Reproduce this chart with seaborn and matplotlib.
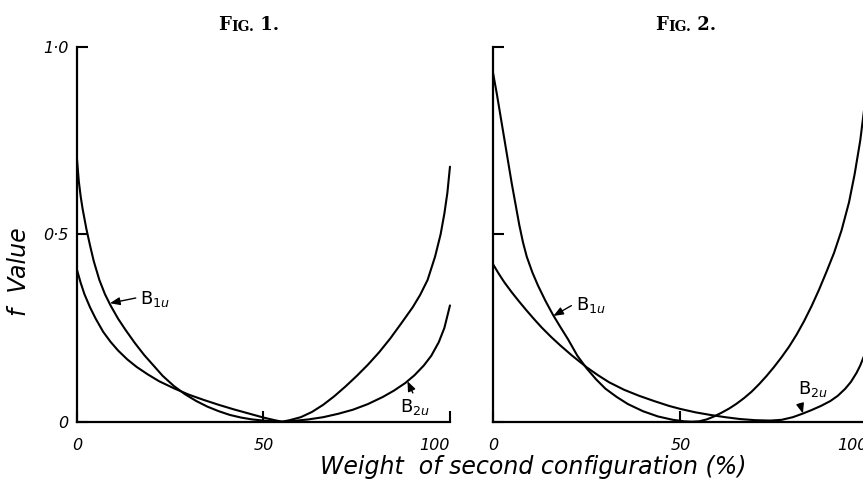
import matplotlib
matplotlib.use('Agg')
import matplotlib.pyplot as plt
import seaborn as sns

# Fig. 1 : f value vs weight of second configuration (%)
fig1_b1u_x = [0, 0.5, 1, 1.5, 2.5, 3.5, 4.5, 6, 7.5, 9, 11, 13, 15.5, 18, 20.5, 23, 26, 29, 32, 35,
              38, 41, 44, 47, 50, 53, 55,
              57, 60, 63, 66, 69, 72, 75, 78, 81, 84, 87, 90, 92, 94, 96, 97.5, 98.5, 99.3, 100]
fig1_b1u_f = [0.700, 0.640, 0.600, 0.568, 0.515, 0.470, 0.428, 0.378, 0.340, 0.310, 0.275, 0.245, 0.210,
              0.178, 0.150, 0.122, 0.095, 0.073, 0.055, 0.040, 0.028, 0.018, 0.011, 0.006, 0.003, 0.001, 0.000,
              0.004, 0.012, 0.026, 0.045, 0.068, 0.094, 0.122, 0.152, 0.185, 0.222, 0.263, 0.305, 0.338,
              0.378, 0.440, 0.500, 0.555, 0.610, 0.680]
fig1_b2u_x = [0, 1, 2, 3.5, 5, 7, 9, 11, 13.5, 16, 19, 22, 26, 30, 34, 38, 42, 46, 50, 53, 55,
              58, 62, 66, 70, 74, 78, 82, 85, 88, 90.5, 93, 95, 97, 98.5, 100]
fig1_b2u_f = [0.405, 0.370, 0.340, 0.305, 0.275, 0.240, 0.213, 0.190, 0.166, 0.146, 0.126, 0.108, 0.089,
              0.072, 0.058, 0.045, 0.033, 0.022, 0.011, 0.004, 0.000,
              0.002, 0.006, 0.012, 0.021, 0.032, 0.047, 0.066, 0.083, 0.103, 0.124, 0.150, 0.176, 0.212,
              0.250, 0.310]

# Fig. 2
fig2_b1u_x = [0, 1, 2, 3, 4, 5, 6, 7, 8, 9, 10.5, 12, 14, 16, 18, 20, 22.5, 25, 27.5, 30, 33, 36, 40,
              44, 48, 51, 53,
              55, 57, 59, 61, 63, 65, 67, 69, 71, 73, 75, 77, 79, 81, 83, 85, 87, 89, 91, 93, 95, 96.5,
              98, 99, 100]
fig2_b1u_f = [0.930, 0.875, 0.815, 0.755, 0.695, 0.635, 0.580, 0.525, 0.478, 0.440, 0.398, 0.363, 0.322,
              0.285, 0.252, 0.220, 0.176, 0.142, 0.113, 0.088, 0.066, 0.047, 0.028, 0.014, 0.005, 0.001,
              0.000,
              0.001, 0.006, 0.014, 0.024, 0.035, 0.048, 0.063, 0.080, 0.100, 0.122, 0.146, 0.172, 0.200,
              0.232, 0.268, 0.308, 0.352, 0.400, 0.450, 0.510, 0.585, 0.660, 0.750, 0.830, 0.930]
fig2_b2u_x = [0, 1.5, 3, 5, 7, 9, 11, 13, 15.5, 18, 21, 25, 28, 31, 35, 39, 43, 47, 50, 54, 58, 62,
              66, 70, 74, 77, 80, 82.5, 85, 87.5, 90, 92, 94, 95.5, 97, 98, 99, 100]
fig2_b2u_f = [0.420, 0.395, 0.372, 0.345, 0.320, 0.296, 0.273, 0.251, 0.226, 0.203, 0.177, 0.145, 0.124,
              0.105, 0.085, 0.069, 0.055, 0.042, 0.034, 0.025, 0.018, 0.012, 0.007, 0.004, 0.003, 0.005,
              0.012, 0.021, 0.031, 0.042, 0.055, 0.069, 0.088, 0.106, 0.130, 0.150, 0.175, 0.205]

x_ticks = [0, 50, 100]
x_ticklabels = ['0', '50', '100']
y_ticks = [0, 0.5, 1.0]
fig1_y_ticklabels = ['0', '0·5', '1·0']

sns.set_theme(style='white')
plt.rcParams['font.family'] = ['DejaVu Sans']
plt.rcParams['text.color'] = 'black'

fig = plt.figure(figsize=(8.63, 4.92), dpi=100)
ax1 = fig.add_axes([0.0892, 0.1429, 0.4322, 0.7622])
ax2 = fig.add_axes([0.5713, 0.1429, 0.4342, 0.7622])

label_font = dict(fontsize=11.5, fontstyle='italic', color='black')

for ax, curves in [(ax1, [(fig1_b1u_x, fig1_b1u_f), (fig1_b2u_x, fig1_b2u_f)]),
                   (ax2, [(fig2_b1u_x, fig2_b1u_f), (fig2_b2u_x, fig2_b2u_f)])]:
    for xs, fs in curves:
        sns.lineplot(x=xs, y=fs, ax=ax, color='black', linewidth=1.5,
                     estimator=None, clip_on=False)
    ax.set_xlim(0, 100)
    ax.set_ylim(0, 1.0)
    sns.despine(ax=ax)
    for sp in ['left', 'bottom']:
        ax.spines[sp].set_color('black')
        ax.spines[sp].set_linewidth(1.6)
    ax.set_xticks(x_ticks)
    ax.set_xticklabels(x_ticklabels, **label_font)
    ax.set_yticks(y_ticks)
    ax.tick_params(axis='both', direction='in', length=8, width=1.5, color='black',
                   left=True, bottom=True, labelcolor='black')
    ax.tick_params(axis='x', pad=12)
    ax.tick_params(axis='y', pad=6)
    ax.get_xticklabels()[2].set_horizontalalignment('right')
    ax.grid(False)

ax1.set_yticklabels(fig1_y_ticklabels, **label_font)
ax2.set_yticklabels(['', '', ''])

arrow = dict(arrowstyle='-|>,head_length=0.45,head_width=0.18', color='black',
             lw=1.0, shrinkA=1, shrinkB=0)
lab_font = dict(fontsize=13, color='black')

ax1.annotate(r'B$_{\mathit{1u}}$', xy=(8.85, 0.316), xytext=(17.0, 0.327),
             ha='left', va='center', arrowprops=dict(arrow, relpos=(0, 0.6)), **lab_font)
ax1.annotate(r'B$_{\mathit{2u}}$', xy=(88.6, 0.108), xytext=(90.6, 0.038),
             ha='center', va='center', arrowprops=dict(arrow, relpos=(0.5, 1.0)), **lab_font)
ax2.annotate(r'B$_{\mathit{1u}}$', xy=(16.1, 0.282), xytext=(26.1, 0.311),
             ha='center', va='center', arrowprops=dict(arrow, relpos=(0, 0.6)), **lab_font)
ax2.annotate(r'B$_{\mathit{2u}}$', xy=(82.7, 0.022), xytext=(85.5, 0.087),
             ha='center', va='center', arrowprops=dict(arrow, relpos=(0.0, 0.05)), **lab_font)


def fig_title(x, y, num):
    serif = dict(family='DejaVu Serif', fontweight='bold', color='black')
    t1 = fig.text(x, y, 'F', fontsize=13, ha='left', va='baseline', **serif)
    t2 = ax1.annotate('IG.', xy=(1, 0), xycoords=t1, fontsize=10,
                      ha='left', va='bottom', annotation_clip=False, **serif)
    ax1.annotate(f' {num}.', xy=(1, 0), xycoords=t2, fontsize=13,
                 ha='left', va='bottom', annotation_clip=False, **serif)


fig_title(0.2526, 0.939, 1)
fig_title(0.759, 0.939, 2)

fig.text(533 / 863, 1 - 467 / 492, 'Weight  of second configuration (%)',
         fontsize=17, fontstyle='italic', ha='center', va='center')
fig.text(19 / 863, 1 - 272 / 492, 'f  Value', fontsize=17, fontstyle='italic',
         rotation=90, ha='center', va='center')

fig.savefig('out.png', dpi=100, facecolor='white')
